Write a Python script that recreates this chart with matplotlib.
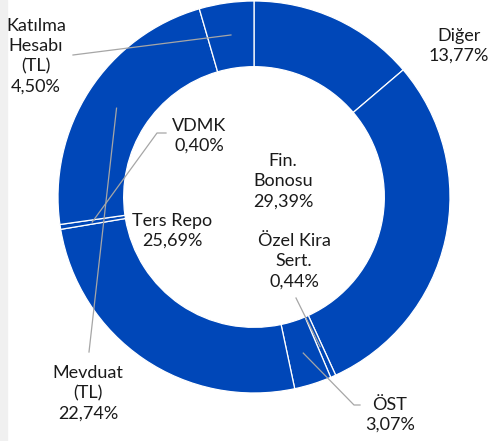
import numpy as np
import matplotlib
matplotlib.use('Agg')
import matplotlib.pyplot as plt
from matplotlib.patches import Rectangle

plt.rcParams['font.family'] = ['Lato', 'DejaVu Sans']

# slices, clockwise from 12 o'clock
labels = ['Diğer', 'Fin.\nBonosu', 'Özel Kira\nSert.', 'ÖST', 'Ters Repo',
          'VDMK', 'Mevduat\n(TL)', 'Katılma\nHesabı\n(TL)']
shares = [13.77, 29.39, 0.44, 3.07, 25.69, 0.40, 22.74, 4.50]

W, H = 489, 441
fig = plt.figure(figsize=(W / 100, H / 100), dpi=100)
fig.patches.append(Rectangle((0, 0), 7 / W, 1, transform=fig.transFigure,
                             color='#f0f0f0', zorder=-1))

cx, cy, R = 254, 197, 196
ax = fig.add_axes([(cx - R) / W, 1 - (cy + R) / H, 2 * R / W, 2 * R / H])
ax.pie(shares, startangle=90, counterclock=False, colors=['#0047b8'] * len(shares),
       wedgeprops=dict(width=0.335, edgecolor='white', linewidth=0.9))
ax.set_xlim(-1, 1)
ax.set_ylim(-1, 1)
ax.set_aspect('equal')
ax.axis('off')


def px(x, y):
    return (x - cx) / R, (cy - y) / R


# label block centres (pixels) and optional leader elbow points
label_pos = [(459, 46), (283, 181), (294, 261), (390, 415), (172, 231),
             (199, 136), (88, 393), (36, 56)]
leaders = {2: [(296, 298)], 3: [(354, 405), (360, 405)],
           5: [(157, 133), (166, 133)], 6: [(89, 352)], 7: [(73, 55)]}

cum = np.cumsum([0] + shares)
for i, (lab, v) in enumerate(zip(labels, shares)):
    txt = lab + '\n' + ('%.2f%%' % v).replace('.', ',')
    tx, ty = px(*label_pos[i])
    ax.text(tx, ty, txt, ha='center', va='center', fontsize=13,
            linespacing=1.32, color='#1a1a1a', clip_on=False)
    if i in leaders:
        mid = np.deg2rad(90 - (cum[i] + v / 2) * 3.6)
        r0 = 0.835
        xs = [r0 * np.cos(mid)] + [px(*p)[0] for p in leaders[i]]
        ys = [r0 * np.sin(mid)] + [px(*p)[1] for p in leaders[i]]
        ax.plot(xs, ys, color='#a6a6a6', lw=0.9, clip_on=False)

fig.savefig('out.png', dpi=100)
